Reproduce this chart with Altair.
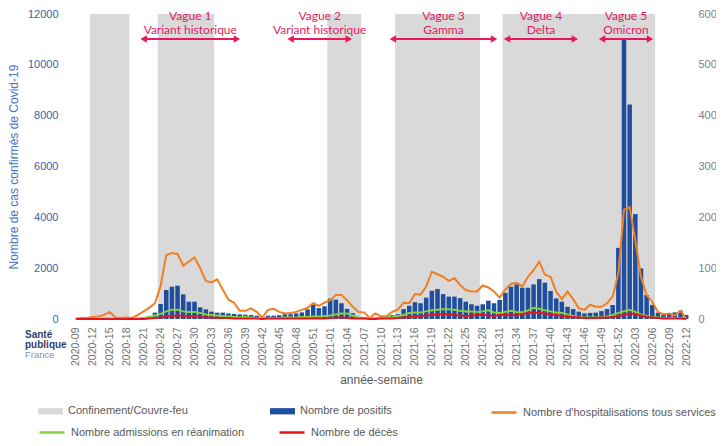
import altair as alt
import pandas as pd

# ---------------- data ----------------
weeks = ([f"2020-{w:02d}" for w in range(9, 54)]
         + [f"2021-{w:02d}" for w in range(1, 53)]
         + [f"2022-{w:02d}" for w in range(1, 13)])

positifs = [
    0, 0, 5, 20, 30, 25, 20, 10, 10, 15, 20, 40,
    80, 110, 250, 590, 1140, 1270, 1310, 970, 680, 680,
    460, 380, 290, 250, 250, 220, 200, 180, 170, 160,
    130, 60, 130, 130, 150, 190, 190, 220, 260, 380,
    580, 430, 500, 800, 760, 620, 400, 230, 80, 70,
    50, 70, 90, 110, 150, 190, 390, 520, 660, 620,
    840, 1110, 1180, 980, 880, 880, 820, 680, 580, 520,
    580, 720, 620, 750, 1030, 1270, 1360, 1230, 1230, 1360,
    1570, 1430, 1100, 810, 680, 480, 390, 290, 220, 240,
    250, 310, 390, 550, 2800, 11030, 8440, 4130, 1990, 940,
    550, 250, 220, 220, 260, 330, 160,
]

hospitalisations = [
    1, 2, 2, 4, 5, 8, 14, 3, 2, 3, 2, 8,
    15, 22, 31, 65, 126, 130, 128, 105, 113, 121,
    100, 75, 72, 78, 58, 38, 32, 16, 16, 21,
    14, 3, 18, 20, 14, 11, 12, 14, 18, 22,
    31, 26, 32, 37, 47, 47, 37, 24, 14, 13,
    2, 11, 5, 6, 14, 19, 32, 31, 49, 48,
    64, 93, 88, 83, 75, 80, 67, 57, 54, 54,
    66, 62, 54, 42, 58, 69, 71, 64, 83, 96,
    113, 87, 83, 54, 39, 54, 39, 21, 18, 28,
    24, 24, 31, 44, 90, 215, 220, 155, 83, 47,
    34, 14, 9, 11, 7, 16, 1,
]

reanimations = [
    0, 0, 0, 0, 0, 1, 1, 0, 0, 0, 0, 1,
    2, 4, 7, 10, 15, 18, 18, 15, 14, 14,
    12, 9, 8, 7, 6, 5, 4, 3, 4, 3,
    2, 1, 2, 2, 2, 3, 3, 3, 4, 4,
    5, 5, 6, 7, 9, 11, 11, 7, 3, 2,
    2, 2, 2, 3, 4, 6, 8, 12, 13, 13,
    15, 17, 18, 19, 19, 18, 16, 15, 15, 14,
    15, 17, 13, 12, 14, 16, 14, 13, 17, 22,
    20, 17, 15, 13, 12, 9, 6, 4, 3, 3,
    3, 4, 5, 8, 12, 15, 18, 14, 9, 6,
    4, 3, 2, 2, 2, 2, 1,
]

deces = [
    0, 0, 0, 0, 0, 0, 0, 0, 0, 0, 0, 0,
    0, 1, 2, 3, 5, 6, 7, 6, 5, 6,
    4, 3, 3, 2, 2, 2, 1, 1, 1, 1,
    1, 0, 1, 1, 1, 1, 1, 1, 1, 1,
    1, 1, 1, 2, 3, 3, 2, 1, 1, 1,
    0, 0, 1, 1, 1, 2, 3, 4, 5, 6,
    7, 8, 9, 10, 9, 8, 7, 6, 7, 8,
    9, 7, 6, 8, 9, 7, 8, 10, 12, 13,
    12, 11, 9, 8, 6, 5, 4, 3, 2, 2,
    2, 3, 3, 4, 6, 8, 11, 10, 7, 4,
    3, 2, 1, 1, 1, 1, 0,
]

confinement_debut = ["2020-12", "2020-24", "2021-01", "2021-13", "2021-32"]
confinement_fin = ["2020-18", "2020-33", "2021-06", "2021-27", "2022-06"]

vagues = ["Vague 1", "Vague 2", "Vague 3", "Vague 4", "Vague 5"]
variants = ["Variant historique", "Variant historique", "Gamma", "Delta", "Omicron"]
vague_debut = [11.4, 37.4, 55.5, 75.7, 92.5]
vague_fin = [29.1, 48.9, 74.6, 88.9, 102.2]

y_left_ticks = [0, 2000, 4000, 6000, 8000, 10000, 12000]
y_right_ticks = [0, 100, 200, 300, 400, 500, 600]
x_tick_step = 3

S_CONF = "Confinement/Couvre-feu"
S_POS = "Nombre de positifs"
S_HOSP = "Nombre d'hospitalisations tous services"
S_REA = "Nombre admissions en réanimation"
S_DC = "Nombre de décès"

logo_lines = ["Santé", "publique", "France"]

# ---------------- tables ----------------
n = len(weeks)
df = pd.DataFrame({"i": list(range(n)), "semaine": weeks, "positifs": positifs})
lines_df = pd.concat([
    pd.DataFrame({"i": list(range(n)), "serie": S_HOSP, "valeur": hospitalisations}),
    pd.DataFrame({"i": list(range(n)), "serie": S_REA, "valeur": reanimations}),
    pd.DataFrame({"i": list(range(n)), "serie": S_DC, "valeur": deces}),
])
bands_df = pd.DataFrame({
    "debut": [weeks.index(w) for w in confinement_debut],
    "fin": [weeks.index(w) for w in confinement_fin],
    "serie": S_CONF,
})
waves_df = pd.DataFrame({"vague": vagues, "variant": variants,
                         "debut": vague_debut, "fin": vague_fin})

# ---------------- styling ----------------
GRAY = "#D9D9D9"
BLUE = "#1F4E9E"
ORANGE = "#F07E22"
GREEN = "#84D33E"
RED = "#E8141B"
PINK = "#E6195E"
FONT = "Liberation Sans"

label_expr = "[" + ",".join(f"'{w}'" for w in weeks) + "][datum.value]"
x_scale = alt.Scale(domain=[-0.5, n - 0.5], nice=False, zero=False, padding=0)
x_axis = alt.Axis(values=list(range(0, n, x_tick_step)), labelExpr=label_expr,
                  labelAngle=270, labelFont=FONT, labelFontSize=10.5,
                  labelColor="#707070", labelPadding=8, labelFlush=False,
                  labelOverlap=False, labelBound=False, ticks=False,
                  domain=False, grid=False, title="année-semaine",
                  titleFont=FONT, titleFontSize=12, titleFontWeight="normal",
                  titleColor="#595959", titlePadding=9)

ly_scale = alt.Scale(domain=[0, 12000], nice=False, padding=0)
ly_axis = alt.Axis(values=y_left_ticks, format="d", labelFont=FONT, labelFontSize=11,
                   labelColor="#3A62A8", labelPadding=15, ticks=False,
                   domain=False, grid=False,
                   title="Nombre de cas confirmés de Covid-19",
                   titleFont=FONT, titleFontSize=12, titleFontWeight="normal",
                   titleColor="#4472C4", titlePadding=7)

ry_scale = alt.Scale(domain=[0, 600], nice=False, padding=0)
ry_axis = alt.Axis(orient="right", values=y_right_ticks, labelFont=FONT,
                   labelFontSize=11, labelColor="#7F7F7F", labelPadding=9,
                   ticks=False, domain=False, grid=False, title=None)

leg_common = dict(orient="none", direction="horizontal", title=None,
                  labelFont=FONT, labelFontSize=11, labelColor="#595959",
                  labelOffset=5, padding=0, labelLimit=400, symbolSize=625)

fill_scale = alt.Scale(domain=[S_CONF, S_POS], range=[GRAY, BLUE])
fill_legend = alt.Legend(legendX=-35, legendY=384.5, columnPadding=82,
                         symbolType="M-1,-0.25H1V0.25H-1Z", symbolStrokeWidth=0,
                         **leg_common)

color_scale = alt.Scale(domain=[S_HOSP], range=[ORANGE])
hosp_legend = alt.Legend(legendX=417, legendY=384.5, symbolType="stroke",
                         symbolStrokeWidth=2.5, **leg_common)

stroke_scale = alt.Scale(domain=[S_REA, S_DC], range=[GREEN, RED])
rd_legend = alt.Legend(legendX=-35, legendY=404.5, columnPadding=29,
                       symbolType="stroke", symbolStrokeWidth=2.5, **leg_common)

# ---------------- left layer ----------------
bands = alt.Chart(bands_df).transform_calculate(
    x0="datum.debut - 0.5", x1="datum.fin + 0.5"
).mark_rect().encode(
    x=alt.X("x0:Q", scale=x_scale, axis=x_axis, title="année-semaine"),
    x2="x1:Q",
    y=alt.datum(12000),
    y2=alt.datum(0),
    fill=alt.Fill("serie:N", scale=fill_scale, legend=fill_legend),
)

bars = alt.Chart(df).transform_calculate(
    serie=f"'{S_POS}'", xa="datum.i - 0.4", xb="datum.i + 0.4"
).mark_bar(strokeWidth=0).encode(
    x=alt.X("xa:Q", scale=x_scale, axis=x_axis, title="année-semaine"),
    x2="xb:Q",
    y=alt.Y("positifs:Q", scale=ly_scale, axis=ly_axis,
            title="Nombre de cas confirmés de Covid-19"),
    y2=alt.datum(0),
    fill=alt.Fill("serie:N", scale=fill_scale, legend=fill_legend),
)

wave_base = alt.Chart(waves_df).transform_calculate(
    milieu="(datum.debut + datum.fin) / 2",
    a="datum.debut + 0.7", b="datum.fin - 0.7",
    ha="datum.debut + 0.6", hb="datum.fin - 0.6",
)
XW = dict(scale=x_scale, axis=x_axis, title="année-semaine")

ARROW_Y = 25
arrows = wave_base.mark_rule(color=PINK, strokeWidth=2).encode(
    x=alt.X("a:Q", **XW), x2="b:Q", y=alt.value(ARROW_Y))
head_l = wave_base.mark_point(shape="triangle-left", filled=True, size=55,
                              color=PINK, opacity=1).encode(
    x=alt.X("ha:Q", **XW), y=alt.value(ARROW_Y))
head_r = wave_base.mark_point(shape="triangle-right", filled=True, size=55,
                              color=PINK, opacity=1).encode(
    x=alt.X("hb:Q", **XW), y=alt.value(ARROW_Y))
t_vague = wave_base.mark_text(font="Lato", fontSize=12, color=PINK,
                              baseline="middle").encode(
    x=alt.X("milieu:Q", **XW), y=alt.value(1.5), text="vague:N")
t_variant = wave_base.mark_text(font="Lato", fontSize=12, color=PINK,
                                baseline="middle").encode(
    x=alt.X("milieu:Q", **XW), y=alt.value(15.5), text="variant:N")

logo_df = pd.DataFrame({"t": logo_lines})
logo1 = alt.Chart(logo_df).transform_filter(f"datum.t == '{logo_lines[0]}'").mark_text(
    font=FONT, fontSize=10, fontWeight="bold", color="#33406E", align="left",
    baseline="middle").encode(x=alt.value(-48), y=alt.value(321), text="t:N")
logo2 = alt.Chart(logo_df).transform_filter(f"datum.t == '{logo_lines[1]}'").mark_text(
    font=FONT, fontSize=10, fontWeight="bold", color="#33406E", align="left",
    baseline="middle").encode(x=alt.value(-48), y=alt.value(331), text="t:N")
logo3 = alt.Chart(logo_df).transform_filter(f"datum.t == '{logo_lines[2]}'").mark_text(
    font=FONT, fontSize=9.5, color="#8C91A8", align="left",
    baseline="middle").encode(x=alt.value(-48), y=alt.value(341), text="t:N")

left = alt.layer(bands, bars, arrows, head_l, head_r, t_vague, t_variant,
                 logo1, logo2, logo3)

# ---------------- right layer ----------------
XL = alt.X("i:Q", scale=x_scale, axis=x_axis, title="année-semaine")
YR = alt.Y("valeur:Q", scale=ry_scale, axis=ry_axis, title=None)

hosp = alt.Chart(lines_df).transform_filter(f"datum.serie == \"{S_HOSP}\"").mark_line(
    strokeWidth=2).encode(
    x=XL, y=YR, color=alt.Color("serie:N", scale=color_scale, legend=hosp_legend))

rd = alt.Chart(lines_df).transform_filter(f"datum.serie != \"{S_HOSP}\"").mark_line(
    strokeWidth=2).encode(
    x=XL, y=YR, stroke=alt.Stroke("serie:N", scale=stroke_scale, legend=rd_legend))

right = alt.layer(hosp, rd)

chart = alt.layer(left, right).resolve_scale(y="independent").properties(
    width=616, height=305,
    autosize=alt.AutoSizeParams(type="none"),
    padding={"left": 65, "top": 6, "right": 27, "bottom": 119},
).configure_view(stroke=None)

chart.save("out.html", embed_options={"renderer": "svg", "actions": False})
